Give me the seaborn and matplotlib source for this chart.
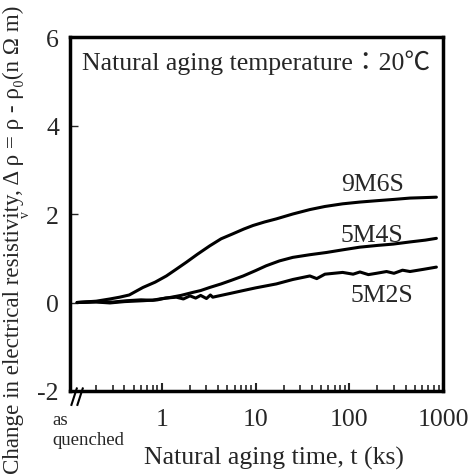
import numpy as np
import pandas as pd
import matplotlib
matplotlib.use("Agg")
import matplotlib.pyplot as plt
import seaborn as sns

# ---- data ----
t_9M6S = [0.125, 0.2, 0.28, 0.355, 0.45, 0.63, 0.85, 1.12, 1.4, 1.83, 2.4, 3.25, 4.3, 5.7, 7.5, 9.4, 12.5, 16.7, 25, 38, 55, 85, 130, 195, 300, 445, 620, 850]
v_9M6S = [0.0, 0.03, 0.08, 0.12, 0.17, 0.34, 0.46, 0.60, 0.74, 0.91, 1.09, 1.28, 1.44, 1.55, 1.66, 1.74, 1.82, 1.89, 2.00, 2.10, 2.17, 2.23, 2.27, 2.30, 2.33, 2.36, 2.37, 2.38]

t_5M4S = [0.125, 0.2, 0.3, 0.42, 0.6, 0.8, 0.95, 1.2, 1.6, 2.16, 2.6, 3.25, 4.3, 5.5, 7.4, 10, 13, 18, 25, 38, 57, 85, 129, 200, 294, 450, 650, 850]
v_5M4S = [0.0, 0.02, 0.01, 0.04, 0.06, 0.05, 0.08, 0.11, 0.16, 0.23, 0.27, 0.34, 0.42, 0.50, 0.60, 0.72, 0.83, 0.94, 1.02, 1.08, 1.13, 1.19, 1.25, 1.29, 1.32, 1.37, 1.41, 1.45]

t_5M2S = [0.125, 0.2, 0.28, 0.4, 0.63, 0.9, 1.1, 1.43, 1.7, 2.0, 2.3, 2.6, 3.0, 3.3, 3.5, 4.5, 5.5, 7.4, 10, 16.7, 25, 38, 45, 55, 85, 110, 130, 160, 195, 250, 300, 370, 445, 620, 850]
v_5M2S = [0.0, 0.01, -0.01, 0.02, 0.04, 0.06, 0.10, 0.12, 0.08, 0.15, 0.10, 0.16, 0.09, 0.17, 0.12, 0.17, 0.21, 0.27, 0.33, 0.42, 0.52, 0.60, 0.54, 0.64, 0.68, 0.64, 0.69, 0.63, 0.66, 0.70, 0.66, 0.73, 0.70, 0.75, 0.80]

series_names = ["9M6S", "5M4S", "5M2S"]
x_ticks = [1, 10, 100, 1000]
x_ticklabels = ["1", "10", "100", "1000"]
y_ticks = [-2, 0, 2, 4, 6]

df = pd.concat([
    pd.DataFrame({"t": t_9M6S, "v": v_9M6S, "alloy": "9M6S"}),
    pd.DataFrame({"t": t_5M4S, "v": v_5M4S, "alloy": "5M4S"}),
    pd.DataFrame({"t": t_5M2S, "v": v_5M2S, "alloy": "5M2S"}),
])

sns.set_style("white")
plt.rcParams["font.family"] = ["Liberation Serif", "Noto Sans CJK JP", "DejaVu Sans"]

fig = plt.figure(figsize=(4.76, 4.77), dpi=100)
ax = fig.add_axes([70/476, 1-392/477, (443-70)/476, (392-38)/477])

sns.lineplot(data=df, x="t", y="v", hue="alloy", palette=["black"]*3,
             legend=False, ax=ax, linewidth=2.2, sort=True, estimator=None)

ax.set_xscale("log")
ax.set_xlim(0.105, 1000)
ax.set_ylim(-2, 6)
ax.set_xticks(x_ticks)
ax.set_xticklabels(x_ticklabels)
ax.set_yticks(y_ticks)
ax.set_yticklabels([str(v) for v in y_ticks])
ax.xaxis.set_minor_locator(matplotlib.ticker.LogLocator(base=10, subs=np.arange(2, 10)))
ax.xaxis.set_minor_formatter(matplotlib.ticker.NullFormatter())

for s in ax.spines.values():
    s.set_linewidth(2.5)
    s.set_color("black")

ax.tick_params(axis="x", which="major", direction="in", length=6, width=1.5,
               labelsize=18.5, pad=12, bottom=True, top=False)
ax.tick_params(axis="x", which="minor", direction="in", length=4, width=1.2,
               bottom=True, top=False)
ax.tick_params(axis="y", which="major", direction="in", length=6, width=1,
               labelsize=18.5, pad=8, left=True, right=False)

ax.set_xlabel("Natural aging time, t (ks)", fontsize=18.5, labelpad=0)
ax.xaxis.set_label_coords(0.548, -0.155)

# y label: fit its length to the reference span
ylab = fig.text(13/476, 1-240/477,
                "Change in electrical resistivity, Δ ρ = ρ - ρ₀(n Ω m)",
                rotation=90, ha="center", va="center", fontsize=18)
fig.canvas.draw()
ext = ylab.get_window_extent(renderer=fig.canvas.get_renderer())
ylab.set_fontsize(18 * 468 / ext.height)

ax.text(0.5, 0.93, "Natural aging temperature：20℃", transform=ax.transAxes,
        ha="center", va="center", fontsize=18.5)

label_pos = {"9M6S": (0.81, 0.585), "5M4S": (0.81, 0.44), "5M2S": (0.835, 0.27)}
for name in series_names:
    x, y = label_pos[name]
    ax.text(x, y, name, transform=ax.transAxes, ha="center", va="center", fontsize=18.5)

# axis break marks and "as quenched"
for dx in (0.0, 0.016):
    ax.plot([0.003 + dx, 0.019 + dx], [-0.042, 0.01], transform=ax.transAxes,
            color="black", lw=1.5, clip_on=False, solid_capstyle="butt")
fig.text(52/476, 1-421/477, "as", fontsize=13.5, ha="left", va="center")
fig.text(52/476, 1-441/477, "quenched", fontsize=13.5, ha="left", va="center")

fig.savefig("out.png", dpi=100)
